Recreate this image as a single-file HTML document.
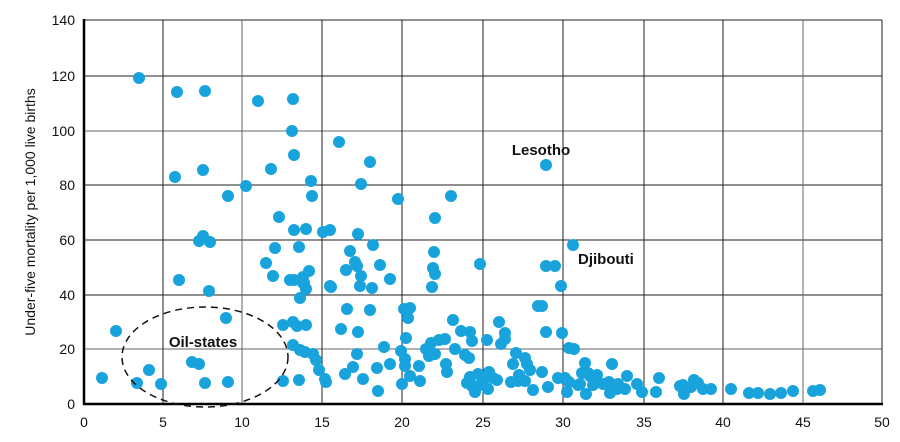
<!DOCTYPE html>
<html><head><meta charset="utf-8"><style>
html,body{margin:0;padding:0;background:#fff;}
svg{display:block;font-family:"Liberation Sans",sans-serif;}
</style></head><body>
<svg width="900" height="442" viewBox="0 0 900 442">
<g stroke="#222" stroke-width="1">
<line x1="84" y1="20" x2="882" y2="20"/>
<line x1="84" y1="76" x2="882" y2="76"/>
<line x1="84" y1="131" x2="882" y2="131" stroke="#666"/>
<line x1="84" y1="185" x2="882" y2="185"/>
<line x1="84" y1="240" x2="882" y2="240"/>
<line x1="84" y1="295" x2="882" y2="295"/>
<line x1="84" y1="349" x2="882" y2="349" stroke="#666"/>
<line x1="163" y1="20" x2="163" y2="404"/>
<line x1="242" y1="20" x2="242" y2="404" stroke="#666"/>
<line x1="322" y1="20" x2="322" y2="404"/>
<line x1="402" y1="20" x2="402" y2="404"/>
<line x1="483" y1="20" x2="483" y2="404"/>
<line x1="563" y1="20" x2="563" y2="404"/>
<line x1="644" y1="20" x2="644" y2="404"/>
<line x1="723" y1="20" x2="723" y2="404"/>
<line x1="803" y1="20" x2="803" y2="404" stroke="#666"/>
<line x1="882" y1="20" x2="882" y2="404"/>
</g>
<line x1="84" y1="19" x2="84" y2="405" stroke="#000" stroke-width="2.5"/>
<line x1="83" y1="404" x2="883" y2="404" stroke="#000" stroke-width="2.5"/>
<g font-size="14" fill="#111" text-anchor="end">
<text x="75" y="25">140</text><text x="75" y="81">120</text><text x="75" y="136">100</text>
<text x="75" y="190">80</text><text x="75" y="245">60</text><text x="75" y="300">40</text>
<text x="75" y="354">20</text><text x="75" y="409">0</text>
</g>
<g font-size="14" fill="#111" text-anchor="middle">
<text x="84" y="427">0</text><text x="163" y="427">5</text><text x="242" y="427">10</text>
<text x="322" y="427">15</text><text x="402" y="427">20</text><text x="483" y="427">25</text>
<text x="563" y="427">30</text><text x="644" y="427">35</text><text x="723" y="427">40</text>
<text x="803" y="427">45</text><text x="882" y="427">50</text>
</g>
<text transform="translate(35,212) rotate(-90)" font-size="14" text-anchor="middle" fill="#111">Under-five mortality per 1,000 live births</text>
<g fill="#19a3dc">
<script>
</script>
</g>
<g fill="#19a3dc" id="pts"></g>
<g fill="#19a3dc">
<circle cx="102" cy="378" r="6"/><circle cx="116" cy="331" r="6"/><circle cx="137" cy="383" r="6"/><circle cx="149" cy="370" r="6"/><circle cx="161" cy="384" r="6"/><circle cx="139" cy="78" r="6"/><circle cx="177" cy="92" r="6"/><circle cx="205" cy="91" r="6"/><circle cx="175" cy="177" r="6"/><circle cx="203" cy="170" r="6"/><circle cx="179" cy="280" r="6"/><circle cx="192" cy="362" r="6"/><circle cx="199" cy="364" r="6"/><circle cx="205" cy="383" r="6"/><circle cx="228" cy="382" r="6"/><circle cx="226" cy="318" r="6"/><circle cx="228" cy="196" r="6"/><circle cx="199" cy="241" r="6"/><circle cx="203" cy="236" r="6"/><circle cx="210" cy="242" r="6"/><circle cx="209" cy="291" r="6"/><circle cx="246" cy="186" r="6"/><circle cx="258" cy="101" r="6"/><circle cx="266" cy="263" r="6"/><circle cx="271" cy="169" r="6"/><circle cx="273" cy="276" r="6"/><circle cx="275" cy="248" r="6"/><circle cx="279" cy="217" r="6"/><circle cx="283" cy="381" r="6"/><circle cx="283" cy="325" r="6"/><circle cx="293" cy="99" r="6"/><circle cx="292" cy="131" r="6"/><circle cx="294" cy="155" r="6"/><circle cx="294" cy="230" r="6"/><circle cx="299" cy="247" r="6"/><circle cx="290" cy="280" r="6"/><circle cx="293" cy="322" r="6"/><circle cx="293" cy="345" r="6"/><circle cx="299" cy="380" r="6"/><circle cx="300" cy="350" r="6"/><circle cx="305" cy="352" r="6"/><circle cx="306" cy="325" r="6"/><circle cx="306" cy="229" r="6"/><circle cx="303" cy="283" r="6"/><circle cx="297" cy="326" r="6"/><circle cx="311" cy="181" r="6"/><circle cx="312" cy="196" r="6"/><circle cx="303" cy="277" r="6"/><circle cx="306" cy="289" r="6"/><circle cx="309" cy="271" r="6"/><circle cx="300" cy="298" r="6"/><circle cx="313" cy="354" r="6"/><circle cx="316" cy="360" r="6"/><circle cx="319" cy="370" r="6"/><circle cx="323" cy="232" r="6"/><circle cx="330" cy="230" r="6"/><circle cx="326" cy="382" r="6"/><circle cx="331" cy="287" r="6"/><circle cx="325" cy="379" r="6"/><circle cx="339" cy="142" r="6"/><circle cx="341" cy="329" r="6"/><circle cx="347" cy="309" r="6"/><circle cx="345" cy="374" r="6"/><circle cx="353" cy="367" r="6"/><circle cx="355" cy="262" r="6"/><circle cx="357" cy="266" r="6"/><circle cx="358" cy="332" r="6"/><circle cx="361" cy="276" r="6"/><circle cx="357" cy="354" r="6"/><circle cx="361" cy="184" r="6"/><circle cx="363" cy="379" r="6"/><circle cx="370" cy="162" r="6"/><circle cx="370" cy="310" r="6"/><circle cx="372" cy="288" r="6"/><circle cx="377" cy="368" r="6"/><circle cx="378" cy="391" r="6"/><circle cx="384" cy="347" r="6"/><circle cx="390" cy="364" r="6"/><circle cx="398" cy="199" r="6"/><circle cx="401" cy="351" r="6"/><circle cx="402" cy="384" r="6"/><circle cx="405" cy="366" r="6"/><circle cx="405" cy="359" r="6"/><circle cx="410" cy="376" r="6"/><circle cx="408" cy="318" r="6"/><circle cx="410" cy="308" r="6"/><circle cx="420" cy="381" r="6"/><circle cx="419" cy="366" r="6"/><circle cx="429" cy="356" r="6"/><circle cx="432" cy="287" r="6"/><circle cx="431" cy="343" r="6"/><circle cx="435" cy="274" r="6"/><circle cx="433" cy="268" r="6"/><circle cx="434" cy="252" r="6"/><circle cx="435" cy="218" r="6"/><circle cx="435" cy="354" r="6"/><circle cx="439" cy="340" r="6"/><circle cx="451" cy="196" r="6"/><circle cx="446" cy="364" r="6"/><circle cx="447" cy="372" r="6"/><circle cx="461" cy="331" r="6"/><circle cx="465" cy="355" r="6"/><circle cx="469" cy="358" r="6"/><circle cx="467" cy="383" r="6"/><circle cx="470" cy="377" r="6"/><circle cx="475" cy="392" r="6"/><circle cx="472" cy="386" r="6"/><circle cx="478" cy="374" r="6"/><circle cx="478" cy="386" r="6"/><circle cx="484" cy="379" r="6"/><circle cx="489" cy="372" r="6"/><circle cx="488" cy="389" r="6"/><circle cx="493" cy="378" r="6"/><circle cx="497" cy="380" r="6"/><circle cx="499" cy="322" r="6"/><circle cx="505" cy="333" r="6"/><circle cx="505" cy="339" r="6"/><circle cx="513" cy="364" r="6"/><circle cx="511" cy="382" r="6"/><circle cx="518" cy="381" r="6"/><circle cx="525" cy="358" r="6"/><circle cx="527" cy="364" r="6"/><circle cx="525" cy="381" r="6"/><circle cx="530" cy="370" r="6"/><circle cx="538" cy="306" r="6"/><circle cx="546" cy="165" r="6"/><circle cx="546" cy="266" r="6"/><circle cx="558" cy="378" r="6"/><circle cx="561" cy="286" r="6"/><circle cx="565" cy="379" r="6"/><circle cx="567" cy="392" r="6"/><circle cx="569" cy="348" r="6"/><circle cx="573" cy="245" r="6"/><circle cx="569" cy="382" r="6"/><circle cx="578" cy="385" r="6"/><circle cx="585" cy="363" r="6"/><circle cx="588" cy="373" r="6"/><circle cx="590" cy="376" r="6"/><circle cx="593" cy="385" r="6"/><circle cx="597" cy="375" r="6"/><circle cx="603" cy="384" r="6"/><circle cx="609" cy="382" r="6"/><circle cx="612" cy="364" r="6"/><circle cx="617" cy="389" r="6"/><circle cx="618" cy="384" r="6"/><circle cx="627" cy="376" r="6"/><circle cx="637" cy="384" r="6"/><circle cx="642" cy="392" r="6"/><circle cx="656" cy="392" r="6"/><circle cx="659" cy="378" r="6"/><circle cx="680" cy="386" r="6"/><circle cx="683" cy="385" r="6"/><circle cx="684" cy="394" r="6"/><circle cx="686" cy="388" r="6"/><circle cx="691" cy="387" r="6"/><circle cx="694" cy="380" r="6"/><circle cx="698" cy="383" r="6"/><circle cx="703" cy="389" r="6"/><circle cx="711" cy="389" r="6"/><circle cx="731" cy="389" r="6"/><circle cx="749" cy="393" r="6"/><circle cx="758" cy="393" r="6"/><circle cx="770" cy="394" r="6"/><circle cx="781" cy="393" r="6"/><circle cx="793" cy="391" r="6"/><circle cx="813" cy="391" r="6"/><circle cx="820" cy="390" r="6"/>
<circle cx="294" cy="280" r="6"/><circle cx="304" cy="283" r="6"/><circle cx="330" cy="286" r="6"/><circle cx="360" cy="286" r="6"/><circle cx="346" cy="270" r="6"/><circle cx="358" cy="234" r="6"/><circle cx="373" cy="245" r="6"/><circle cx="350" cy="251" r="6"/><circle cx="390" cy="279" r="6"/><circle cx="380" cy="265" r="6"/><circle cx="404" cy="309" r="6"/><circle cx="406" cy="338" r="6"/><circle cx="453" cy="320" r="6"/><circle cx="480" cy="264" r="6"/><circle cx="555" cy="266" r="6"/><circle cx="542" cy="306" r="6"/><circle cx="562" cy="333" r="6"/><circle cx="546" cy="332" r="6"/><circle cx="470" cy="332" r="6"/><circle cx="445" cy="339" r="6"/><circle cx="426" cy="349" r="6"/><circle cx="455" cy="349" r="6"/><circle cx="472" cy="341" r="6"/><circle cx="487" cy="340" r="6"/><circle cx="501" cy="344" r="6"/><circle cx="516" cy="353" r="6"/><circle cx="519" cy="375" r="6"/><circle cx="533" cy="390" r="6"/><circle cx="542" cy="372" r="6"/><circle cx="548" cy="387" r="6"/><circle cx="565" cy="378" r="6"/><circle cx="580" cy="384" r="6"/><circle cx="582" cy="373" r="6"/><circle cx="610" cy="393" r="6"/><circle cx="586" cy="394" r="6"/><circle cx="625" cy="389" r="6"/><circle cx="574" cy="349" r="6"/>
</g>
<ellipse cx="205" cy="357" rx="83" ry="50" fill="none" stroke="#111" stroke-width="1.5" stroke-dasharray="7,5"/>
<g font-size="15" font-weight="bold" fill="#111">
<text x="203" y="347" text-anchor="middle">Oil-states</text>
<text x="541" y="155" text-anchor="middle">Lesotho</text>
<text x="578" y="264">Djibouti</text>
</g>
</svg>
</body></html>
